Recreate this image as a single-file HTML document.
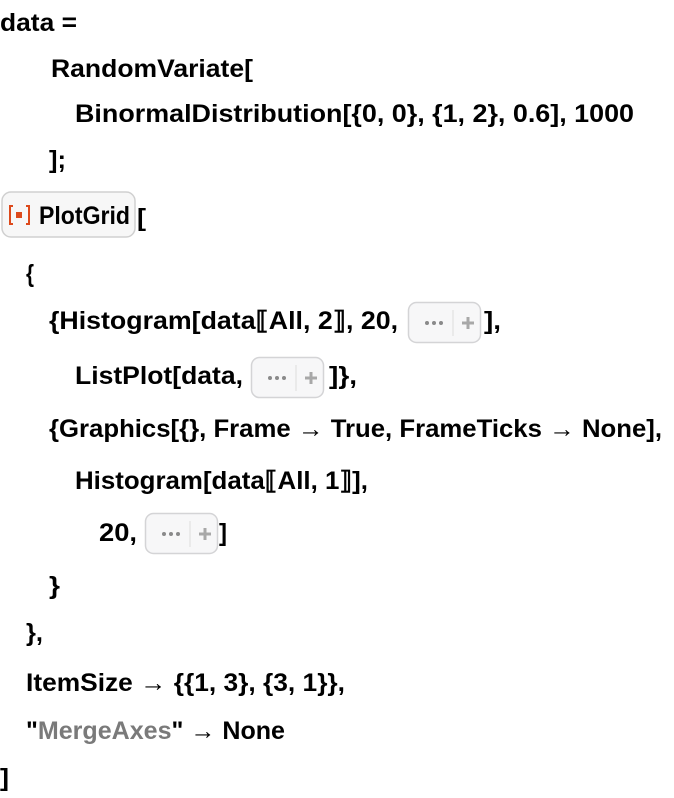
<!DOCTYPE html>
<html><head><meta charset="utf-8"><style>
html,body{margin:0;padding:0;background:#fff;}
svg{display:block;}
text{font-family:"Liberation Sans",sans-serif;font-weight:bold;font-size:25px;fill:#000;}
.g{fill:#7a7a7a;}
</style></head><body>
<svg width="674" height="798" viewBox="0 0 674 798" xmlns="http://www.w3.org/2000/svg">
<defs>
<g id="btn">
<rect x="0.5" y="0.5" width="72" height="40" rx="8" fill="#f7f7f8" stroke="#d4d4d6" stroke-width="1.5"/>
<circle cx="19" cy="21" r="2" fill="#8a8a8a"/><circle cx="26" cy="21" r="2" fill="#8a8a8a"/><circle cx="33" cy="21" r="2" fill="#8a8a8a"/>
<line x1="45" y1="8" x2="45" y2="34" stroke="#dcdcdc" stroke-width="1"/>
<rect x="54" y="19.5" width="12" height="3" fill="#a8a8a8"/><rect x="58.5" y="15" width="3" height="12" fill="#a8a8a8"/>
</g>
</defs>
<text x="0" y="31" textLength="77" lengthAdjust="spacingAndGlyphs">data =</text>
<text x="51" y="77" textLength="202" lengthAdjust="spacingAndGlyphs">RandomVariate[</text>
<text x="75" y="122" textLength="559" lengthAdjust="spacingAndGlyphs">BinormalDistribution[{0, 0}, {1, 2}, 0.6], 1000</text>
<text x="49" y="168" textLength="17" lengthAdjust="spacingAndGlyphs">];</text>
<rect x="2" y="192" width="133" height="45" rx="9" fill="#f7f7f7" stroke="#d0d0d0" stroke-width="1.5"/>
<path d="M13 206 h-3 v18 h3 M26 206 h3 v18 h-3" fill="none" stroke="#dd4a1c" stroke-width="2"/>
<rect x="16" y="212" width="6" height="6" fill="#dd4a1c"/>
<text x="39" y="224" textLength="91" lengthAdjust="spacingAndGlyphs">PlotGrid</text>
<text x="137" y="226" textLength="9" lengthAdjust="spacingAndGlyphs">[</text>
<text x="26" y="282" textLength="8" lengthAdjust="spacingAndGlyphs">{</text>
<text x="49" y="329" textLength="349" lengthAdjust="spacingAndGlyphs">{Histogram[data⟦All, 2⟧, 20,</text>
<use href="#btn" x="408" y="302"/>
<text x="484" y="329" textLength="17" lengthAdjust="spacingAndGlyphs">],</text>
<text x="75" y="384" textLength="168" lengthAdjust="spacingAndGlyphs">ListPlot[data,</text>
<use href="#btn" x="251" y="357"/>
<text x="329" y="384" textLength="28" lengthAdjust="spacingAndGlyphs">]},</text>
<text x="49" y="437" textLength="613" lengthAdjust="spacingAndGlyphs">{Graphics[{}, Frame → True, FrameTicks → None],</text>
<text x="75" y="489" textLength="293" lengthAdjust="spacingAndGlyphs">Histogram[data⟦All, 1⟧],</text>
<text x="99" y="541" textLength="38" lengthAdjust="spacingAndGlyphs">20,</text>
<use href="#btn" x="145" y="513"/>
<text x="219" y="541" textLength="8" lengthAdjust="spacingAndGlyphs">]</text>
<text x="49" y="594" textLength="11" lengthAdjust="spacingAndGlyphs">}</text>
<text x="26" y="641" textLength="17" lengthAdjust="spacingAndGlyphs">},</text>
<text x="26" y="691" textLength="319" lengthAdjust="spacingAndGlyphs">ItemSize → {{1, 3}, {3, 1}},</text>
<text x="26" y="739" textLength="259" lengthAdjust="spacingAndGlyphs">"<tspan class="g">MergeAxes</tspan>" → None</text>
<text x="0" y="786" textLength="9" lengthAdjust="spacingAndGlyphs">]</text>
</svg>
</body></html>
